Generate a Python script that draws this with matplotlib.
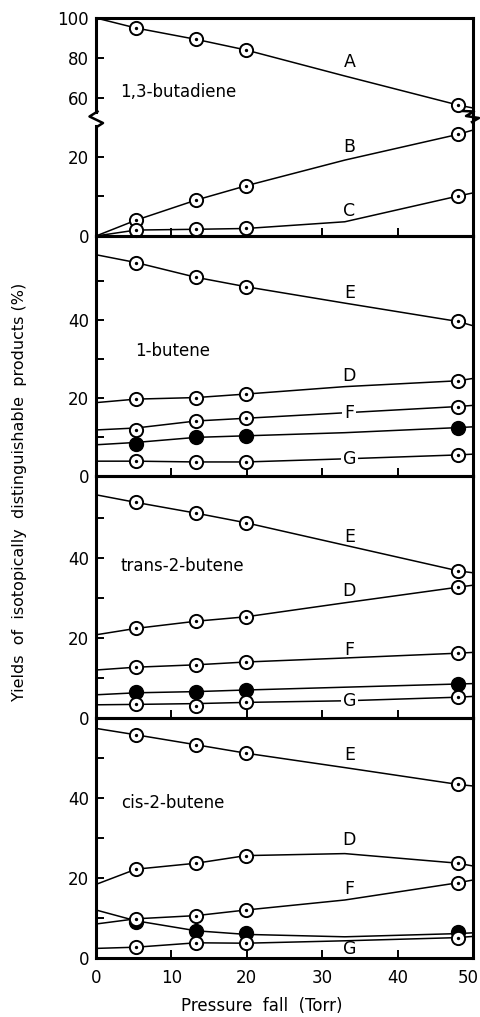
import numpy as np
import matplotlib.pyplot as plt
import matplotlib.transforms as mtransforms
from matplotlib.lines import Line2D

# x positions of the measured points and of the drawn curves (Torr)
x_pts = [5.3, 13.3, 19.9, 48.0]
x_line = [0.0, 5.3, 13.3, 19.9, 33.0, 48.0, 50.0]

# 1,3-butadiene
buta_A = [95.0, 89.3, 84.0, 56.5]
buta_A_line = [100.0, 95.0, 89.3, 84.0, 71.0, 56.5, 55.0]
buta_B = [4.0, 9.1, 12.7, 25.7]
buta_B_line = [0.0, 4.0, 9.1, 12.7, 19.2, 25.7, 26.8]
buta_C = [1.5, 1.7, 1.9, 10.1]
buta_C_line = [0.0, 1.5, 1.7, 1.9, 3.6, 10.1, 10.9]

# 1-butene
b1_E = [54.7, 50.9, 48.5, 39.6]
b1_E_line = [56.7, 54.7, 50.9, 48.5, 44.3, 39.6, 38.5]
b1_D = [19.7, 20.1, 21.0, 24.4]
b1_D_line = [18.8, 19.7, 20.1, 21.0, 22.9, 24.4, 25.0]
b1_F = [11.8, 14.1, 14.8, 17.8]
b1_F_line = [11.8, 12.3, 14.1, 14.8, 16.2, 17.8, 18.1]
b1_fill = [8.3, 9.9, 10.3, 12.4]
b1_fill_line = [8.0, 8.6, 9.9, 10.3, 11.1, 12.4, 12.6]
b1_G = [3.8, 3.6, 3.6, 5.4]
b1_G_line = [3.8, 3.8, 3.6, 3.6, 4.4, 5.4, 5.6]

# trans-2-butene
t2_E = [53.9, 51.2, 48.8, 36.8]
t2_E_line = [55.8, 53.9, 51.2, 48.8, 43.2, 36.8, 36.3]
t2_D = [22.4, 24.2, 25.3, 32.7]
t2_D_line = [20.8, 22.4, 24.2, 25.3, 28.8, 32.7, 33.2]
t2_F = [12.7, 13.3, 14.0, 16.2]
t2_F_line = [12.0, 12.7, 13.3, 14.0, 15.0, 16.2, 16.4]
t2_fill = [6.6, 6.6, 7.0, 8.5]
t2_fill_line = [5.8, 6.3, 6.6, 7.0, 7.7, 8.5, 8.6]
t2_G = [3.4, 3.1, 3.9, 5.2]
t2_G_line = [3.3, 3.4, 3.6, 3.9, 4.3, 5.2, 5.4]

# cis-2-butene
c2_E = [55.8, 53.3, 51.2, 43.4]
c2_E_line = [57.4, 55.8, 53.3, 51.2, 47.6, 43.4, 43.0]
c2_D = [22.2, 23.7, 25.6, 23.7]
c2_D_line = [18.4, 22.2, 23.7, 25.6, 26.1, 23.7, 23.0]
c2_F = [9.8, 10.6, 12.0, 18.8]
c2_F_line = [8.5, 9.8, 10.6, 12.0, 14.5, 18.8, 19.5]
c2_fill = [8.9, 6.8, 6.2, 6.6]
c2_fill_line = [12.0, 9.3, 6.8, 5.9, 5.3, 6.1, 6.3]
c2_G = [2.7, 3.8, 3.7, 5.1]
c2_G_line = [2.4, 2.7, 3.8, 3.7, 4.3, 5.1, 5.4]

W, H = 481, 1017
fig = plt.figure(figsize=(W / 100, H / 100), dpi=100)
plt.rcParams['font.family'] = 'DejaVu Sans'

left = 96 / W
width = (473 - 96) / W


def pos(top, bottom):
    return [left, 1 - bottom / H, width, (bottom - top) / H]


def style(ax):
    for s in ax.spines.values():
        s.set_linewidth(2.2)
    ax.tick_params(direction='in', length=6, width=1.4, labelsize=12,
                   pad=5, top=False, right=False)
    ax.set_xlim(0, 50)
    ax.set_xticks([0, 10, 20, 30, 40, 50])
    ax.tick_params(axis='x', labelbottom=False, pad=8)
    ax.set_facecolor('none')


def draw(ax, pts, line, filled=False):
    ax.plot(x_line, line, color='black', lw=1.1, zorder=2, clip_on=False)
    if filled:
        ax.plot(x_pts, pts, 'o', color='black', ms=10, zorder=3, clip_on=False)
    else:
        ax.plot(x_pts, pts, 'o', mfc='white', mec='black', ms=9.5, mew=1.4,
                zorder=4, clip_on=False)
        ax.plot(x_pts, pts, 'o', color='black', ms=1.4, zorder=5, clip_on=False)


def label(ax, x, y, s, gap=False):
    kw = {}
    if gap:
        kw['bbox'] = dict(facecolor='white', edgecolor='none', pad=1.5)
    ax.text(x, y, s, fontsize=12.5, ha='center', va='center', zorder=6, **kw)


# panel 1, broken axis
ax1u = fig.add_axes(pos(18, 117))
ax1l = fig.add_axes(pos(117, 236))
for ax in (ax1u, ax1l):
    style(ax)
ax1u.set_ylim(50.5, 100)
ax1u.set_yticks([60, 80, 100])
ax1u.spines['bottom'].set_visible(False)
ax1u.tick_params(axis='x', bottom=False)
ax1u.spines['left'].set_bounds(53, 100)
ax1l.set_ylim(0, 30.1)
ax1l.set_yticks([0, 10, 20])
ax1l.set_yticklabels(['0', '', '20'])
ax1l.spines['top'].set_visible(False)
ax1l.spines['left'].set_bounds(0, 27.8)

draw(ax1u, buta_A, buta_A_line)
draw(ax1l, buta_B, buta_B_line)
draw(ax1l, buta_C, buta_C_line)
label(ax1u, 33.6, 78, 'A')
label(ax1l, 33.6, 22.5, 'B')
label(ax1l, 33.6, 6.3, 'C')
ax1u.text(3.2, 63, '1,3-butadiene', fontsize=12, va='center')

# break marks
zig_l = [(97.5, 111.5), (89.5, 116.5), (103, 123), (97.5, 126.5)]
zig_r = [(463, 111), (474, 111.5), (466, 116), (479, 118), (472, 122)]
for zig in (zig_l, zig_r):
    xs = [p[0] / W for p in zig]
    ys = [1 - p[1] / H for p in zig]
    fig.add_artist(Line2D(xs, ys, color='black', lw=1.8))

# panels 2-4
ax2 = fig.add_axes(pos(236, 476))
ax3 = fig.add_axes(pos(476, 718))
ax4 = fig.add_axes(pos(718, 958))
for ax, top in ((ax2, 61.5), (ax3, 60.5), (ax4, 60.0)):
    style(ax)
    ax.set_ylim(0, top)
    ax.set_yticks([0, 10, 20, 30, 40, 50])
    ax.set_yticklabels(['0', '', '20', '', '40', ''])

draw(ax2, b1_E, b1_E_line)
draw(ax2, b1_D, b1_D_line)
draw(ax2, b1_F, b1_F_line)
draw(ax2, b1_fill, b1_fill_line, filled=True)
draw(ax2, b1_G, b1_G_line)
label(ax2, 33.6, 46.8, 'E')
label(ax2, 33.6, 25.6, 'D')
label(ax2, 33.6, 16.2, 'F', gap=True)
label(ax2, 33.6, 4.3, 'G', gap=True)
ax2.text(5.2, 32, '1-butene', fontsize=12, va='center')

draw(ax3, t2_E, t2_E_line)
draw(ax3, t2_D, t2_D_line)
draw(ax3, t2_F, t2_F_line)
draw(ax3, t2_fill, t2_fill_line, filled=True)
draw(ax3, t2_G, t2_G_line)
label(ax3, 33.6, 45.3, 'E')
label(ax3, 33.6, 31.8, 'D')
label(ax3, 33.6, 17.0, 'F')
label(ax3, 33.6, 4.3, 'G', gap=True)
ax3.text(3.3, 38, 'trans-2-butene', fontsize=12, va='center')

draw(ax4, c2_E, c2_E_line)
draw(ax4, c2_D, c2_D_line)
draw(ax4, c2_F, c2_F_line)
draw(ax4, c2_fill, c2_fill_line, filled=True)
draw(ax4, c2_G, c2_G_line)
label(ax4, 33.6, 50.8, 'E')
label(ax4, 33.6, 29.5, 'D')
label(ax4, 33.6, 17.2, 'F')
label(ax4, 33.6, 2.2, 'G')
ax4.text(3.3, 38.8, 'cis-2-butene', fontsize=12, va='center')
ax4.tick_params(axis='x', labelbottom=True)

# keep the "50" inside the picture, as in the reference
last = ax4.get_xticklabels()[-1]
last.set_ha('right')
last.set_transform(last.get_transform() +
                   mtransforms.ScaledTranslation(6 / 100, 0, fig.dpi_scale_trans))

fig.text(262 / W, 1 - 1006 / H, 'Pressure  fall  (Torr)', fontsize=12,
         ha='center', va='center')
fig.text(20 / W, 1 - 492 / H,
         'Yields  of  isotopically  distinguishable  products (%)',
         fontsize=11.5, rotation=90, ha='center', va='center')

fig.savefig('out.png', dpi=100)
